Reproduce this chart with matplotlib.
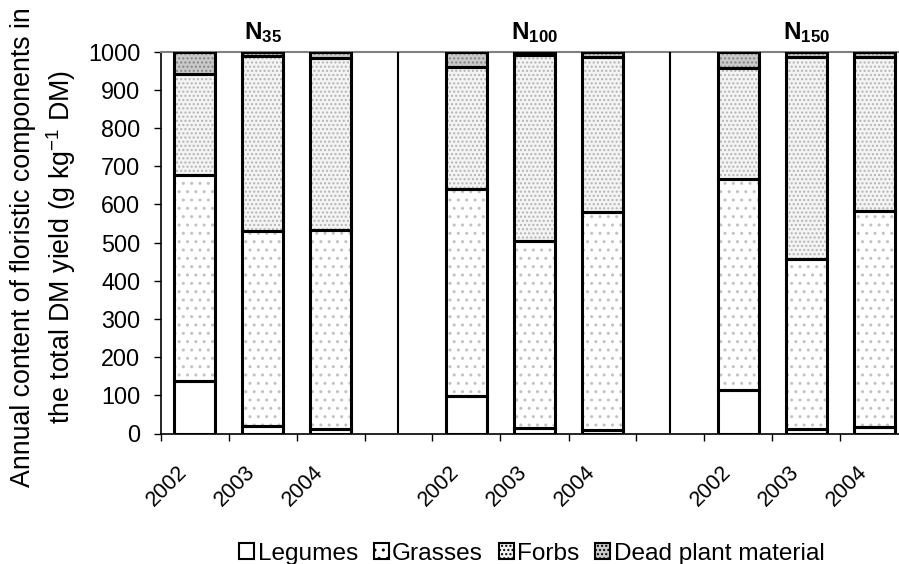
import matplotlib
matplotlib.use("Agg")
import matplotlib.pyplot as plt
from matplotlib.patches import Patch
import numpy as np

plt.rcParams['font.family'] = ['Liberation Sans', 'DejaVu Sans']
plt.rcParams['mathtext.fontset'] = 'custom'
plt.rcParams['mathtext.rm'] = 'Liberation Sans'
plt.rcParams['mathtext.bf'] = 'Liberation Sans:bold'
plt.rcParams['mathtext.it'] = 'Liberation Sans:italic'

# ---- data (g/kg DM) ----
slot_labels = ["2002", "2003", "2004", "", "2002", "2003", "2004", "", "2002", "2003", "2004"]
group_labels = [r"$\mathbf{N_{35}}$", r"$\mathbf{N_{100}}$", r"$\mathbf{N_{150}}$"]
legumes = [137, 20, 13, None, 99, 14, 9, None, 114, 11, 16]
grasses = [539, 510, 519, None, 541, 491, 571, None, 553, 447, 566]
forbs   = [265, 459, 451, None, 321, 486, 407, None, 289, 529, 403]
dead    = [59, 11, 17, None, 39, 9, 13, None, 44, 13, 15]
series_names = ["Legumes", "Grasses", "Forbs", "Dead plant material"]

W, H = 899, 564
fig = plt.figure(figsize=(W / 100, H / 100), dpi=100)
left, right, top, bottom = 160.5, 908.5, 51.7, 433.5
ax = fig.add_axes([left / W, 1 - bottom / H, (right - left) / W, (bottom - top) / H])

idx = [i for i, v in enumerate(legumes) if v is not None]
x = np.array(idx, dtype=float)
L = np.array([legumes[i] for i in idx], float)
G = np.array([grasses[i] for i in idx], float)
F = np.array([forbs[i] for i in idx], float)
D = np.array([dead[i] for i in idx], float)

bw = 0.6
styles = [
    dict(face="white", hatch=None, hc="#b0b0b0"),
    dict(face="white", hatch="..", hc="#c2c2c2"),
    dict(face="#f4f4f4", hatch="....", hc="#b4b4b4"),
    dict(face="#cacaca", hatch="....", hc="#858585"),
]
bottoms = np.zeros_like(L)
for vals, st in zip([L, G, F, D], styles):
    ax.bar(x, vals, bw, bottom=bottoms, color=st["face"], edgecolor=st["hc"],
           linewidth=0, hatch=st["hatch"], zorder=2)
    ax.bar(x, vals, bw, bottom=bottoms, fill=False, edgecolor="black",
           linewidth=2.2, zorder=3)
    bottoms = bottoms + vals

# separators between nitrogen groups
for i, v in enumerate(legumes):
    if v is None:
        ax.plot([i, i], [5, 1000], color="black", lw=1.5, zorder=3)

ax.set_xlim(-0.5, len(slot_labels) - 0.5)
ax.set_ylim(0, 1000)
ax.set_yticks(np.arange(0, 1001, 100))
ax.tick_params(axis="y", labelsize=16.8, length=5, width=1, direction="out", pad=9.4)

ax.set_xticks(np.arange(-0.5, len(slot_labels) - 0.5 + 0.01, 1.0))
ax.set_xticklabels([])
ax.tick_params(axis="x", length=5.3, width=1, direction="out")

trans = matplotlib.transforms.blended_transform_factory(ax.transData, ax.transAxes)
for i, lab in enumerate(slot_labels):
    if lab:
        ax.text(i - 0.04, -0.0746, lab, rotation=45, ha="right", va="top",
                fontsize=15.5, transform=trans)

for spine in ["left", "bottom"]:
    ax.spines[spine].set_color("black")
    ax.spines[spine].set_linewidth(1.2)
ax.spines["top"].set_color("#808080")
ax.spines["top"].set_linewidth(1.5)
ax.spines["right"].set_visible(False)

for k, g in enumerate(group_labels):
    ax.text(1 + 4 * k, 1.033, g, transform=trans, ha="center", va="baseline",
            fontsize=17.4)

fig.text(44 / W, 1 - 247 / H,
         "Annual content of floristic components in\nthe total DM yield (g kg$^{-1}$ DM)",
         rotation=90, ha="center", va="center", fontsize=19.3, linespacing=1.3,
         multialignment="center")

handles = []
for st, name in zip(styles, series_names):
    handles.append(Patch(facecolor=st["face"], edgecolor="black", hatch=st["hatch"],
                         linewidth=1.5, label=name))
fig.legend(handles=handles, loc="center", bbox_to_anchor=(532 / W, 0.018), ncol=4,
           frameon=False, fontsize=17.6, handlelength=0.6, handleheight=0.6,
           handletextpad=0.15, columnspacing=0.65, borderaxespad=0, borderpad=0)

fig.savefig("out.png", dpi=100)
